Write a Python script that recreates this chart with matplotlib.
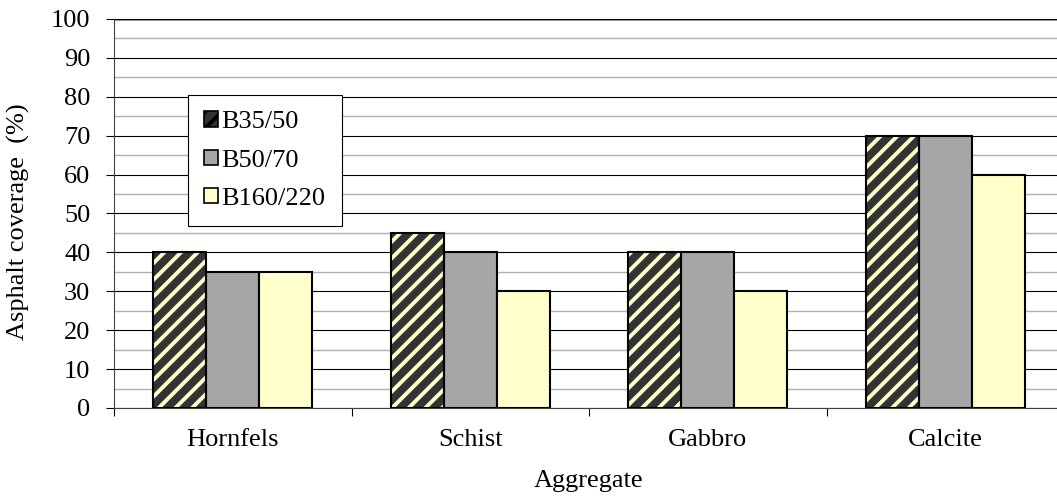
import matplotlib.pyplot as plt
import numpy as np
from matplotlib.patches import Patch
from matplotlib.ticker import MultipleLocator

aggregates = ['Hornfels', 'Schist', 'Gabbro', 'Calcite']
b35_50 = [40, 45, 40, 70]
b50_70 = [35, 40, 40, 70]
b160_220 = [35, 30, 30, 60]

plt.rcParams['font.family'] = ['Liberation Serif', 'DejaVu Serif']
plt.rcParams['hatch.linewidth'] = 2.8
plt.rcParams['hatch.color'] = '#FFFFCC'

FS = 19

fig = plt.figure(figsize=(10.57, 4.97), dpi=100)
W, H = 1057, 497
ax = fig.add_axes([114 / W, (H - 408) / H, 950 / W, 389 / H])

x = np.arange(len(aggregates))
w = 0.223

# hatched series: dark fill + light stripes, black outline on top
ax.bar(x - w, b35_50, w, color='#333333', hatch='//', edgecolor='#FFFFCC',
       linewidth=0, zorder=3)
ax.bar(x - w, b35_50, w, fill=False, edgecolor='black', linewidth=1.5, zorder=4)
ax.bar(x, b50_70, w, color='#A6A6A6', edgecolor='black', linewidth=1.5, zorder=3)
ax.bar(x + w, b160_220, w, color='#FFFFCC', edgecolor='black', linewidth=1.5,
       zorder=3)

ax.set_xlim(-0.5, 3.5)
ax.set_ylim(0, 100)
ax.yaxis.set_major_locator(MultipleLocator(10))
ax.yaxis.set_minor_locator(MultipleLocator(5))
ax.grid(which='major', axis='y', color='black', linewidth=0.8, zorder=0)
ax.grid(which='minor', axis='y', color='#B0B0B0', linewidth=1.0, zorder=0)
ax.axhline(100, color='#808080', linewidth=1.8, zorder=1)

ax.set_xticks(np.arange(-0.5, 4, 1))
ax.set_xticklabels([])
ax.set_xticks(x, minor=True)
ax.set_xticklabels(aggregates, minor=True)
ax.tick_params(axis='x', which='major', length=6, direction='out', color='black')
ax.tick_params(axis='x', which='minor', length=0, pad=15, labelsize=FS)
ax.tick_params(axis='y', which='major', length=6, direction='out', labelsize=FS,
               pad=11)
ax.tick_params(axis='y', which='minor', length=0)

for s in ['top', 'right']:
    ax.spines[s].set_visible(False)
ax.spines['left'].set_color('#404040')
ax.spines['bottom'].set_color('#404040')

ax.set_ylabel('Asphalt coverage  (%)', fontsize=FS)
ax.yaxis.set_label_coords(-0.088, 0.48)
ax.set_xlabel('Aggregate', fontsize=FS, labelpad=14)

handles = [
    Patch(facecolor='#333333', hatch='//', edgecolor='black', linewidth=1.2),
    Patch(facecolor='#A6A6A6', edgecolor='black', linewidth=1.2),
    Patch(facecolor='#FFFFCC', edgecolor='black', linewidth=1.2),
]
leg = ax.legend(handles, ['B35/50', 'B50/70', 'B160/220'],
                loc='upper left', bbox_to_anchor=((188 - 114) / 950, (408 - 95) / 389),
                fontsize=FS, frameon=True, fancybox=False, edgecolor='black',
                framealpha=1, handlelength=0.5, handleheight=0.5,
                handletextpad=0.15, labelspacing=0.62, borderpad=0.62,
                borderaxespad=0)
leg.get_frame().set_linewidth(0.8)

fig.savefig('out.png', dpi=100)
